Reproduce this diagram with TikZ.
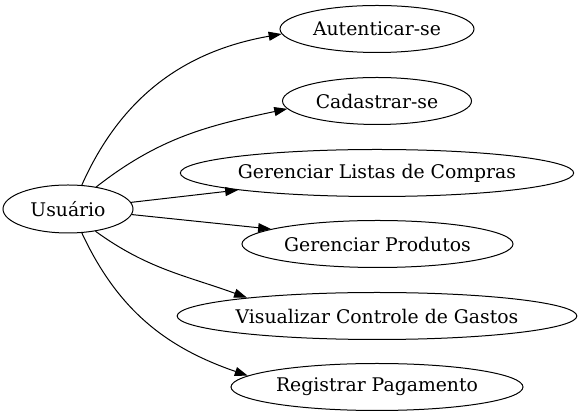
\documentclass[tikz,border=0pt]{standalone}
\usepackage{fontspec}
\setmainfont{DejaVu Serif}
\usetikzlibrary{shapes.geometric,arrows.meta}
\begin{document}
\begin{tikzpicture}[x=1pt,y=1pt,
  uc/.style={draw,ellipse,inner sep=0pt,minimum height=47pt,line width=1pt,font=\fontsize{18.8}{22}\selectfont},
  arr/.style={line width=1pt,-{Triangle[length=13pt,width=9pt]}}]
\useasboundingbox (0,0) rectangle (580,419);
\node[uc,minimum width=130pt,minimum height=48pt] (u) at (68,210) {Usuário};
\node[uc,minimum width=194pt] (a1) at (377,390) {Autenticar-se};
\node[uc,minimum width=189pt] (a2) at (377,318) {Cadastrar-se};
\node[uc,minimum width=390pt] (a3) at (377,246) {Gerenciar Listas de Compras};
\node[uc,minimum width=271pt] (a4) at (377.5,175) {Gerenciar Produtos};
\node[uc,minimum width=396pt] (a5) at (377,103) {Visualizar Controle de Gastos};
\node[uc,minimum width=292pt] (a6) at (377,32) {Registrar Pagamento};
\draw[arr] (u.60) to[out=66,in=190] (a1.183);
\draw[arr] (u.38) to[out=38,in=192] (a2.185.5);
\draw[arr] (u.6) -- (a3.187);
\draw[arr] (u.-5) -- (a4.172.7);
\draw[arr] (u.-39) to[out=-36,in=160] (a5.172.6);
\draw[arr] (u.-60) to[out=-65,in=161] (a6.175.5);
\end{tikzpicture}
\end{document}
